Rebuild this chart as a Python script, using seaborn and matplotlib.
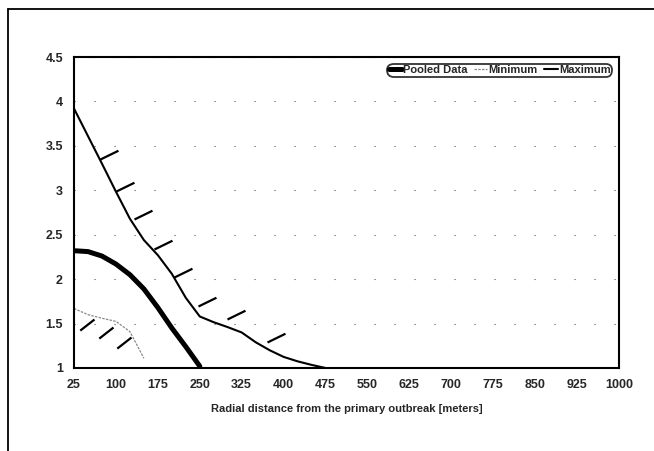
import numpy as np
import pandas as pd
import matplotlib
matplotlib.use("Agg")
import matplotlib.pyplot as plt
from matplotlib.path import Path
from matplotlib.lines import Line2D
import seaborn as sns

# ---------------- data ----------------
distance = [25, 50, 75, 100, 125, 150, 175, 200, 225, 250,
            275, 300, 325, 350, 375, 400, 425, 450, 475, 500,
            525, 550, 575, 600, 625, 650, 675, 700, 725, 750,
            775, 800, 825, 850, 875, 900, 925, 950, 975, 1000]
nan = float("nan")
pooled = [2.32, 2.31, 2.26, 2.17, 2.05, 1.89, 1.68, 1.45, 1.24, 1.02] + [nan] * 30
minimum = [1.67, 1.60, 1.56, 1.525, 1.41, 1.11] + [nan] * 34
maximum = [3.92, 3.61, 3.30, 2.985, 2.68, 2.44, 2.27, 2.06, 1.79, 1.58,
           1.515, 1.46, 1.40, 1.29, 1.20, 1.125, 1.075, 1.035, 1.0] + [nan] * 21

xtick_labels = [25, 100, 175, 250, 325, 400, 475, 550, 625, 700, 775, 850, 925, 1000]
ytick_labels = [1, 1.5, 2, 2.5, 3, 3.5, 4, 4.5]

# hand-drawn hatch marks (anchor points)
hatch_max_x = [71.5, 99.6, 132.4, 168.7, 204.5, 247.5, 298.3, 371]
hatch_max_y = [3.35, 2.99, 2.675, 2.34, 2.02, 1.70, 1.55, 1.29]
hatch_min_x = [60.8, 95.3, 126.5]
hatch_min_y = [1.555, 1.46, 1.35]

df = pd.DataFrame({"distance": distance, "Pooled Data": pooled,
                   "Minimum": minimum, "Maximum": maximum})

# ---------------- style ----------------
sns.set_style("white")
plt.rcParams["font.family"] = ["Liberation Sans", "DejaVu Sans"]

fig = plt.figure(figsize=(6.54, 4.51), dpi=100)
ax = fig.add_axes([74 / 654, 1 - 368 / 451, (619 - 74) / 654, (368 - 57) / 451])

sns.lineplot(data=df, x="distance", y="Pooled Data", ax=ax, color="black",
             linewidth=3.6, label="Pooled Data", zorder=3)
sns.lineplot(data=df, x="distance", y="Minimum", ax=ax, color="#8a8a8a",
             linewidth=0.9, linestyle=(0, (2, 1)), label="Minimum", zorder=3)
sns.lineplot(data=df, x="distance", y="Maximum", ax=ax, color="black",
             linewidth=1.5, label="Maximum", zorder=3)

# hatch markers
a = np.deg2rad(26)
max_marker = Path([(0, 0), (np.cos(a), np.sin(a))], [Path.MOVETO, Path.LINETO])
b = np.deg2rad(38)
min_marker = Path([(0, 0), (-np.cos(b), -np.sin(b))], [Path.MOVETO, Path.LINETO])
ax.plot(hatch_max_x, hatch_max_y, linestyle="none", marker=max_marker,
        markersize=28.8 * np.cos(a) * 20 / 20, markeredgecolor="black",
        markeredgewidth=1.6, zorder=4)
ax.plot(hatch_min_x, hatch_min_y, linestyle="none", marker=min_marker,
        markersize=26.0 * np.cos(b), markeredgecolor="black",
        markeredgewidth=1.6, zorder=4)

ax.set_xlim(25, 1000)
ax.set_ylim(1, 4.5)
ax.set_xticks(xtick_labels)
ax.set_xticklabels([str(v) for v in xtick_labels])
ax.set_yticks(ytick_labels)
ax.set_yticklabels([f"{v:g}" for v in ytick_labels])
ax.tick_params(axis="both", length=0, labelsize=9, pad=8)
for lab in ax.get_xticklabels() + ax.get_yticklabels():
    lab.set_fontweight("bold")

ax.set_xlabel("Radial distance from the primary outbreak [meters]",
              fontsize=8, fontweight="bold", labelpad=9)
ax.set_ylabel("")

ax.yaxis.grid(True, color="#555555", linewidth=0.8, linestyle=(0, (1, 17)))
ax.xaxis.grid(False)
for s in ax.spines.values():
    s.set_visible(True)
    s.set_color("black")
    s.set_linewidth(1.5)
    s.set_zorder(5)

leg = ax.legend(loc="upper right", ncol=3, frameon=True, fontsize=8,
                handlelength=1.2, handletextpad=0.1, columnspacing=0.6,
                borderpad=0.15, borderaxespad=0.6, fancybox=True)
leg.get_frame().set_edgecolor("black")
leg.get_frame().set_linewidth(1.3)
leg.get_frame().set_boxstyle("round,pad=0.0,rounding_size=0.6")
for t in leg.get_texts():
    t.set_fontweight("bold")

# outer frame (left and top edges)
fig.add_artist(Line2D([8 / 654, 8 / 654], [0, 1 - 9 / 451], transform=fig.transFigure,
                      color="black", linewidth=1.3))
fig.add_artist(Line2D([8 / 654, 1], [1 - 9 / 451, 1 - 9 / 451], transform=fig.transFigure,
                      color="black", linewidth=1.3))

fig.savefig("out.png", dpi=100)
